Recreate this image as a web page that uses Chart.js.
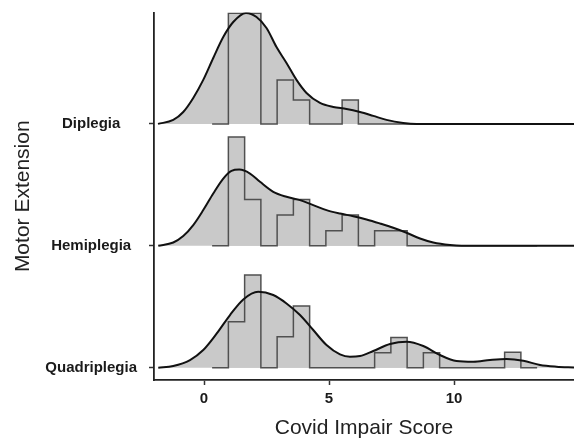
<!DOCTYPE html>
<html>
<head>
<meta charset="utf-8">
<script src="https://cdn.jsdelivr.net/npm/chart.js@4.4.1/dist/chart.umd.min.js"></script>
<style>
  html, body { margin: 0; padding: 0; background: #fff; }
  #ridges { display: block; }
</style>
</head>
<body>
<canvas id="ridges" width="574" height="442"></canvas>
<script>
// Ridge groups, top to bottom, and where each baseline sits on the y scale
const groups = ['Diplegia', 'Hemiplegia', 'Quadriplegia'];
const ridgeBase = [2, 1, 0];
const xTicks = [0, 5, 10];

// histogram bin edges (binwidth ~0.65), shared by all ridges
const binEdges = [0.325, 0.975, 1.625, 2.275, 2.925, 3.575, 4.225, 4.875, 5.525, 6.175,
  6.825, 7.475, 8.125, 8.775, 9.425, 10.075, 10.725, 11.375, 12.025, 12.675, 13.325];

// scaled heights (1 = distance between two ridges)
const dipX = [-1.84, -1.23, -0.83, -0.43, -0.03, 0.37, 0.77, 1.17, 1.68, 2.1, 2.5, 2.9, 3.3, 3.7,
  4.1, 4.64, 5.17, 5.7, 6.24, 6.77, 7.3, 7.97, 8.5, 14.8];
const dipDens = [0, 0.033, 0.098, 0.213, 0.361, 0.541, 0.713, 0.836, 0.91, 0.877, 0.787, 0.631, 0.5, 0.361,
  0.254, 0.172, 0.139, 0.123, 0.098, 0.066, 0.033, 0.008, 0, 0];
const dipHist = [0, 0.907, 0.907, 0, 0.361, 0.197, 0, 0, 0.197, 0, 0, 0, 0, 0, 0, 0, 0, 0, 0, 0];

const hemX = [-1.83, -1.23, -0.83, -0.43, -0.03, 0.37, 0.77, 1.1, 1.41, 1.84, 2.24, 2.77, 3.3, 3.84,
  4.37, 4.9, 5.44, 5.97, 6.5, 7.04, 7.57, 8.1, 8.64, 9.17, 9.84, 10.3, 14.8];
const hemDens = [0, 0.027, 0.08, 0.17, 0.293, 0.429, 0.552, 0.615, 0.625, 0.593, 0.525, 0.443, 0.402, 0.375,
  0.334, 0.293, 0.265, 0.243, 0.216, 0.183, 0.148, 0.107, 0.06, 0.027, 0.006, 0, 0];
const hemHist = [0, 0.893, 0.38, 0, 0.252, 0.38, 0, 0.123, 0.252, 0, 0.123, 0.123, 0, 0, 0, 0, 0, 0, 0, 0];

const quaX = [-1.83, -1.23, -0.56, -0.03, 0.51, 1.04, 1.57, 2.17, 2.77, 3.3, 3.84, 4.37, 4.9, 5.44,
  5.84, 6.24, 6.77, 7.44, 8.11, 8.77, 9.44, 10.1, 10.77, 11.44, 12.1, 12.77, 13.44, 14.1, 14.8];
const quaDens = [0, 0.014, 0.063, 0.145, 0.281, 0.432, 0.56, 0.623, 0.596, 0.527, 0.432, 0.309, 0.186, 0.109,
  0.09, 0.096, 0.137, 0.194, 0.213, 0.178, 0.104, 0.055, 0.049, 0.063, 0.071, 0.057, 0.022, 0.008, 0.002];
const quaHist = [0, 0.377, 0.76, 0, 0.254, 0.506, 0, 0, 0, 0, 0.123, 0.248, 0, 0.123, 0, 0, 0, 0, 0.127, 0];

const FILL = '#c9c9c9';

function densitySet(xs, hs, base){
    return {
        data: xs.map((x, i) => ({x: x, y: base + hs[i]})),
        borderColor: '#111', borderWidth: 2, backgroundColor: FILL,
        fill: {value: base}, pointRadius: 0, cubicInterpolationMode: 'monotone'
    };
}

function histSet(counts, base){
    return {
        data: binEdges.map((e, i) => ({x: e, y: base + (i < counts.length ? counts[i] : 0)})),
        borderColor: '#505050', borderWidth: 1.5, backgroundColor: FILL,
        fill: {value: base}, pointRadius: 0, stepped: true
    };
}

const datasets = [
    densitySet(dipX, dipDens, ridgeBase[0]),
    densitySet(hemX, hemDens, ridgeBase[1]),
    densitySet(quaX, quaDens, ridgeBase[2]),
    histSet(dipHist, ridgeBase[0]),
    histSet(hemHist, ridgeBase[1]),
    histSet(quaHist, ridgeBase[2])
];

new Chart(document.getElementById('ridges').getContext('2d'), {
    type: 'line',
    data: {datasets: datasets},
    options: {
        responsive: false, animation: false, devicePixelRatio: 1,
        layout: {padding: {top: 12.5, right: 0, left: 0, bottom: 0}},
        plugins: {legend: {display: false}, tooltip: {enabled: false}, filler: {drawTime: 'beforeDatasetsDraw'}},
        scales: {
            x: {
                type: 'linear', min: -2, max: 14.8,
                afterBuildTicks: s => { s.ticks = xTicks.map(v => ({value: v})); },
                afterFit: s => { s.height = 62; s.paddingLeft = 0; s.paddingRight = 0; },
                grid: {display: true, drawOnChartArea: false, tickLength: 5, tickColor: '#333', tickWidth: 1.5},
                border: {display: true, color: '#222', width: 1.8},
                ticks: {color: '#1a1a1a', padding: 5, font: {family: 'Liberation Sans', size: 15, weight: 'bold'}},
                title: {display: true, text: 'Covid Impair Score', color: '#222', padding: {top: 4, bottom: 1},
                    font: {family: 'Liberation Sans', size: 21}}
            },
            y: {
                type: 'linear', min: -0.101, max: 2.914,
                afterBuildTicks: s => { s.ticks = ridgeBase.map(v => ({value: v})); },
                afterFit: s => { s.width = 154; s.paddingTop = 0; s.paddingBottom = 0; },
                grid: {display: true, drawOnChartArea: false, tickLength: 5, tickColor: '#333', tickWidth: 1.5},
                border: {display: true, color: '#222', width: 1.8},
                ticks: {
                    color: '#1a1a1a', padding: 12, crossAlign: 'center',
                    font: {family: 'Liberation Sans', size: 15, weight: 'bold'},
                    callback: v => groups[ridgeBase.indexOf(v)]
                },
                title: {display: true, text: 'Motor Extension', color: '#222', padding: {top: 11, bottom: 4},
                    font: {family: 'Liberation Sans', size: 21}}
            }
        }
    }
});
</script>
</body>
</html>
